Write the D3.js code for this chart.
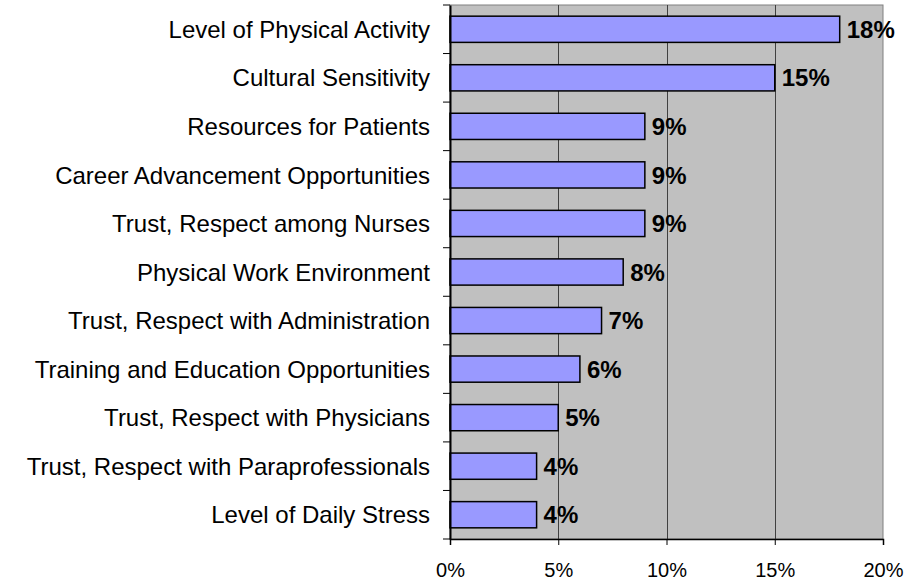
<!DOCTYPE html>
<html>
<head>
<meta charset="utf-8">
<script src="https://cdn.jsdelivr.net/npm/d3@7"></script>
<style>
  body { margin: 0; background: #fff; }
  svg { font-family: "Liberation Sans", Arial, sans-serif; }
</style>
</head>
<body>
<svg id="chart" width="908" height="584"></svg>
<script>
var categories = [
  "Level of Physical Activity",
  "Cultural Sensitivity",
  "Resources for Patients",
  "Career Advancement Opportunities",
  "Trust, Respect among Nurses",
  "Physical Work Environment",
  "Trust, Respect with Administration",
  "Training and Education Opportunities",
  "Trust, Respect with Physicians",
  "Trust, Respect with Paraprofessionals",
  "Level of Daily Stress"
];
var values = [18, 15, 9, 9, 9, 8, 7, 6, 5, 4, 4];
var xTicks = [0, 5, 10, 15, 20];

var plotL = 450, plotR = 883, plotT = 5, plotB = 539;
var svg = d3.select("#chart");

var x = d3.scaleLinear().domain([0, 20]).range([plotL, plotR]);
var y = d3.scaleBand().domain(categories).range([plotT, plotB]).paddingInner(0.46).paddingOuter(0.23);
var yb = d3.scaleBand().domain(categories).range([plotT, plotB]);

// plot background
svg.append("rect")
  .attr("x", plotL).attr("y", plotT)
  .attr("width", plotR - plotL).attr("height", plotB - plotT)
  .attr("fill", "#c0c0c0")
  .attr("stroke", "#808080").attr("stroke-width", 1);

// gridlines
svg.selectAll(".grid")
  .data(xTicks.filter(d => d > 0 && d < 20))
  .enter().append("line")
  .attr("class", "grid")
  .attr("x1", d => Math.round(x(d)) + 0.5).attr("x2", d => Math.round(x(d)) + 0.5)
  .attr("y1", plotT).attr("y2", plotB)
  .attr("stroke", "#404040").attr("stroke-width", 1);

// bars
svg.selectAll(".bar")
  .data(values)
  .enter().append("rect")
  .attr("class", "bar")
  .attr("x", x(0))
  .attr("y", (d, i) => y(categories[i]))
  .attr("width", d => x(d) - x(0))
  .attr("height", y.bandwidth())
  .attr("fill", "#9999ff")
  .attr("stroke", "#000").attr("stroke-width", 1.5);

// value labels
svg.selectAll(".val")
  .data(values)
  .enter().append("text")
  .attr("class", "val")
  .attr("x", d => x(d) + 7)
  .attr("y", (d, i) => y(categories[i]) + y.bandwidth() / 2)
  .attr("dy", "0.36em")
  .attr("font-size", 24)
  .attr("font-weight", "bold")
  .attr("fill", "#000")
  .text(d => d + "%");

// y axis
var yAxis = d3.axisLeft(yb).tickSize(0).tickFormat("");
svg.append("g").attr("transform", "translate(" + plotL + ",0)").call(yAxis)
  .call(g => g.select(".domain").attr("stroke", "#000").attr("stroke-width", 2));
svg.selectAll(".ytick")
  .data(categories.concat(["end"]))
  .enter().append("line")
  .attr("class", "ytick")
  .attr("x1", plotL - 7).attr("x2", plotL)
  .attr("y1", (d, i) => i < categories.length ? yb(d) : plotB)
  .attr("y2", (d, i) => i < categories.length ? yb(d) : plotB)
  .attr("stroke", "#000").attr("stroke-width", 1);

svg.selectAll(".cat")
  .data(categories)
  .enter().append("text")
  .attr("class", "cat")
  .attr("x", plotL - 20)
  .attr("y", d => yb(d) + yb.bandwidth() / 2)
  .attr("dy", "0.36em")
  .attr("text-anchor", "end")
  .attr("font-size", 24)
  .attr("fill", "#000")
  .text(d => d);

// x axis
var xAxis = d3.axisBottom(x).tickValues(xTicks).tickSize(6).tickPadding(18).tickFormat(d => d + "%");
svg.append("g").attr("transform", "translate(0," + plotB + ")").call(xAxis)
  .call(g => g.select(".domain").attr("stroke", "#000").attr("stroke-width", 1.5))
  .call(g => g.selectAll(".tick line").attr("stroke", "#000"))
  .call(g => g.selectAll(".tick text").attr("font-size", 20).attr("fill", "#000")
    .attr("font-family", "Liberation Sans, Arial, sans-serif"));
</script>
</body>
</html>
